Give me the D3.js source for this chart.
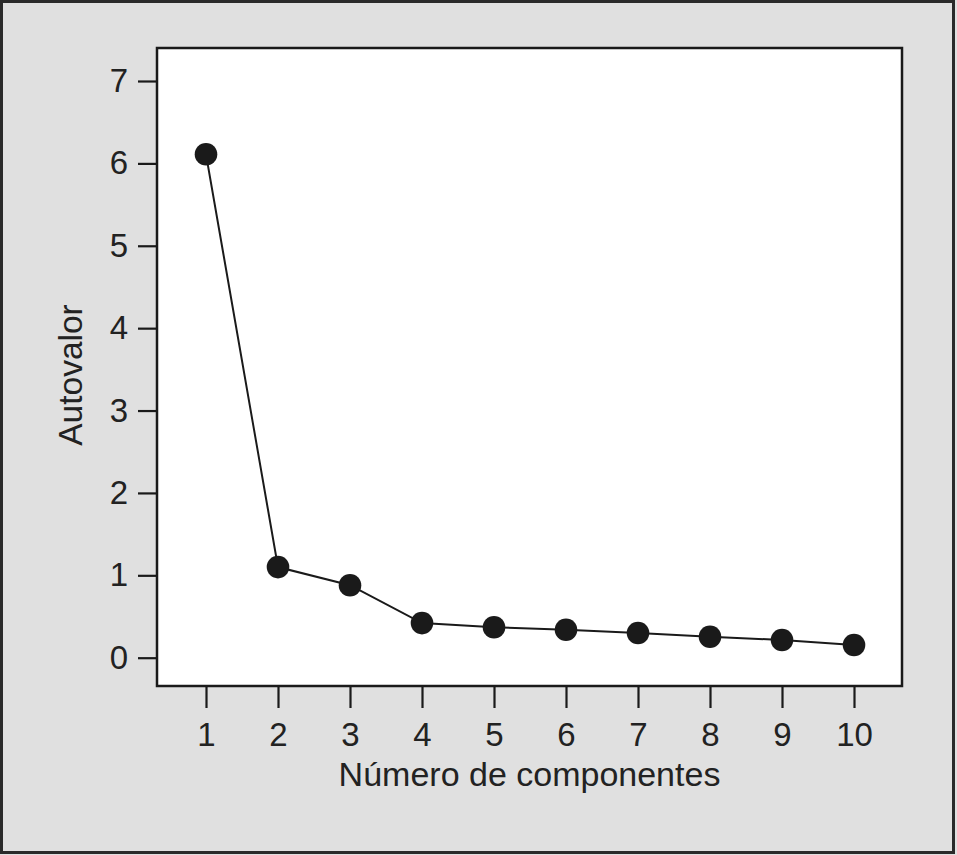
<!DOCTYPE html>
<html>
<head>
<meta charset="utf-8">
<script src="https://cdn.jsdelivr.net/npm/d3@7"></script>
<style>
  html, body { margin: 0; padding: 0; background: #e0e0e0; }
  svg { display: block; }
  text { font-family: "Liberation Sans", Arial, sans-serif; fill: #222; }
</style>
</head>
<body>
<svg id="chart" width="957" height="855"></svg>
<script>
const components = [1, 2, 3, 4, 5, 6, 7, 8, 9, 10];
const eigenvalues = [6.11, 1.10, 0.88, 0.42, 0.37, 0.34, 0.30, 0.255, 0.215, 0.155];
const yTicks = [0, 1, 2, 3, 4, 5, 6, 7];
const xTicks = [1, 2, 3, 4, 5, 6, 7, 8, 9, 10];
const xTitle = "Número de componentes";
const yTitle = "Autovalor";

const svg = d3.select("#chart");
const W = 957, H = 855;
const plot = { left: 157, right: 902, top: 48, bottom: 686 };

svg.append("rect").attr("x", 0).attr("y", 0).attr("width", W).attr("height", H).attr("fill", "#e0e0e0");
svg.append("rect").attr("x", 1.5).attr("y", 1.5).attr("width", 952).attr("height", 851)
  .attr("fill", "#e0e0e0").attr("stroke", "#2a2a2a").attr("stroke-width", 3);

svg.append("rect").attr("x", plot.left).attr("y", plot.top)
  .attr("width", plot.right - plot.left).attr("height", plot.bottom - plot.top)
  .attr("fill", "#fff");

const x = d3.scaleLinear().domain([1, 10]).range([206, 854]);
const y = d3.scaleLinear().domain([0, 7]).range([657.7, 81]);

const yAxis = d3.axisLeft(y).tickValues(yTicks).tickSize(19).tickPadding(10).tickFormat(d3.format("d"));
const xAxis = d3.axisBottom(x).tickValues(xTicks).tickSize(22).tickPadding(15).tickFormat(d3.format("d"));

const gy = svg.append("g").attr("transform", `translate(${plot.left},0)`).call(yAxis);
const gx = svg.append("g").attr("transform", `translate(0,${plot.bottom})`).call(xAxis);
[gy, gx].forEach(g => {
  g.select(".domain").remove();
  g.selectAll(".tick line").attr("stroke", "#1a1a1a").attr("stroke-width", 2.2);
  g.selectAll(".tick text").attr("font-size", 33).attr("fill", "#2a2a2a")
    .attr("font-family", "'Liberation Sans', Arial, sans-serif");
});

svg.append("rect").attr("x", plot.left).attr("y", plot.top)
  .attr("width", plot.right - plot.left).attr("height", plot.bottom - plot.top)
  .attr("fill", "none").attr("stroke", "#1a1a1a").attr("stroke-width", 2.5);

const data = components.map((c, i) => ({ c, v: eigenvalues[i] }));

svg.append("path").datum(data)
  .attr("fill", "none").attr("stroke", "#1a1a1a").attr("stroke-width", 2)
  .attr("d", d3.line().x(d => x(d.c)).y(d => y(d.v)));

svg.append("g").selectAll("circle").data(data).join("circle")
  .attr("cx", d => x(d.c)).attr("cy", d => y(d.v)).attr("r", 11.3)
  .attr("fill", "#1a1a1a");

svg.append("text").attr("x", (plot.left + plot.right) / 2).attr("y", 786)
  .attr("text-anchor", "middle").attr("font-size", 34).attr("fill", "#2a2a2a").text(xTitle);

svg.append("text").attr("transform", `translate(82,375) rotate(-90)`)
  .attr("text-anchor", "middle").attr("font-size", 33.5).attr("fill", "#2a2a2a").text(yTitle);
</script>
</body>
</html>
